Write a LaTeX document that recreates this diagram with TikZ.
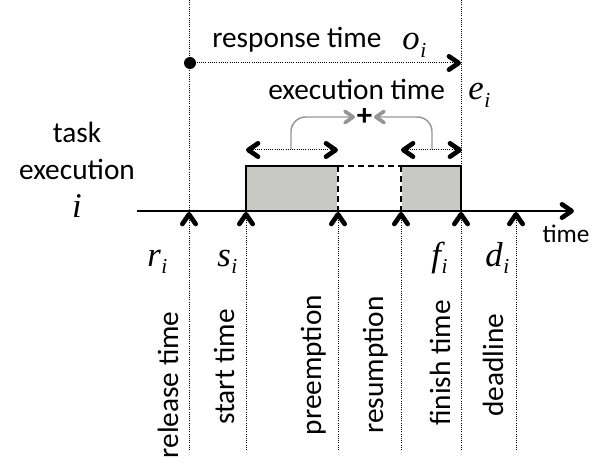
\documentclass[tikz,border=0pt]{standalone}
\usepackage{fontspec}
\setmainfont{Carlito}
\newfontfamily\mvfont{Liberation Serif}
\usetikzlibrary{arrows.meta}
\definecolor{boxgray}{RGB}{200,200,197}
\definecolor{arrgray}{RGB}{150,150,150}
\newcommand\mvar[2]{{\mvfont\itshape #1\kern0.5pt\raisebox{-0.22em}{\fontsize{16}{16}\selectfont #2}}}
\begin{document}
\begin{tikzpicture}[x=0.75pt,y=-0.75pt,
  chevpic/.pic={\draw[black,solid,line width=3.5pt,line cap=round,line join=round]
     (-9pt,-5pt) -- (-1.75pt,0pt) -- (-9pt,5pt);},
  gchevpic/.pic={\draw[arrgray,solid,line width=2.8pt,line cap=round,line join=round]
     (-7.5pt,-4.2pt) -- (-1.4pt,0pt) -- (-7.5pt,4.2pt);},
  dotline/.style={line width=0.75pt,dash pattern=on 0.75pt off 0.9pt},
  boxline/.style={line width=1.5pt,line join=miter},
  garrow/.style={arrgray,line width=1.1pt,rounded corners=11pt},
  lbl/.style={inner sep=0pt,font=\fontsize{22}{26}\selectfont},
  mlbl/.style={inner sep=0pt,font=\fontsize{26}{28}\selectfont},
  vlbl/.style={inner sep=0pt,rotate=90,anchor=base,font=\fontsize{22}{26}\selectfont}]
\useasboundingbox (0,0) rectangle (610,474);
% named coordinates
\coordinate (axL) at (137,211);
\coordinate (axR) at (574,211);
\coordinate (tr) at (189,212);
\coordinate (ts) at (246,212);
\coordinate (tp) at (338,212);
\coordinate (tq) at (401,212);
\coordinate (tf) at (461,212);
\coordinate (td) at (516,212);
\coordinate (br) at (189,450);
\coordinate (bs) at (246,450);
\coordinate (bp) at (338,450);
\coordinate (bq) at (401,450);
\coordinate (bf) at (461,450);
\coordinate (bd) at (516,450);
\coordinate (topr) at (189,0);
\coordinate (topf) at (461,0);
\coordinate (axr) at (189,211);
\coordinate (boxf) at (461,166);
\coordinate (respend) at (461,63);
\coordinate (e1a) at (246,150);
\coordinate (e1b) at (338,150);
\coordinate (e2a) at (401,150);
\coordinate (e2b) at (462,150);
\coordinate (g1) at (291,149);
\coordinate (g1c) at (291,117);
\coordinate (g1e) at (355,117);
\coordinate (g2) at (432,149);
\coordinate (g2c) at (432,117);
\coordinate (g2e) at (374,117);
% boxes
\fill[boxgray] (246,166) rectangle (338,211);
\fill[boxgray] (401,166) rectangle (461,211);
\draw[white,line width=1.5pt] (338,166) -- (338,211);
\draw[white,line width=1.5pt] (401,166) -- (401,211);
\draw[boxline] (246,211) -- (246,166) -- (338,166);
\draw[boxline,dash pattern=on 4.5pt off 3pt] (338,166) -- (401,166);
\draw[boxline,dash pattern=on 4.5pt off 3pt] (338,166) -- (338,211);
\draw[boxline,dash pattern=on 4.5pt off 3pt] (401,166) -- (401,211);
\draw[boxline] (401,166) -- (461,166) -- (461,211);
% axis
\draw[line width=1.5pt] (axL) -- ([xshift=-2pt]axR);
\pic at (axR) {chevpic};
% top dotted lines
\draw[dotline] (topr) -- (axr);
\draw[dotline] (topf) -- (boxf);
% event markers
\foreach \b/\t in {br/tr,bs/ts,bp/tp,bq/tq,bf/tf,bd/td}{
  \draw[dotline] (\b) -- (\t);
  \pic[rotate=90] at (\t) {chevpic};
}
% response time arrow
\fill (190,63) circle (4.5pt) coordinate (dot);
\draw[dotline] (dot) -- (respend);
\pic at (respend) {chevpic};
% execution parts
\draw[dotline] (e1a) -- (e1b);
\pic[rotate=180] at (e1a) {chevpic};
\pic at (e1b) {chevpic};
\draw[dotline] (e2a) -- (e2b);
\pic[rotate=180] at (e2a) {chevpic};
\pic at (e2b) {chevpic};
\node[inner sep=0pt,font=\fontsize{23}{26}\selectfont\bfseries] (plus) at (364.5,117) {+};
\draw[garrow] (g1) -- (g1c) -- ([xshift=-2pt]g1e);
\pic at (g1e) {gchevpic};
\draw[garrow] (g2) -- (g2c) -- ([xshift=2pt]g2e);
\pic[rotate=180] at (g2e) {gchevpic};
% texts
\node[lbl,anchor=base] (task) at (77,143) {task};
\node[lbl,anchor=base] (execl) at (77,180) {execution};
\node[mlbl,anchor=base] (ivar) at (77,217) {\mvfont\itshape i};
\node[lbl,anchor=base west] (resp) at (212,48) {response time};
\node[mlbl,anchor=base west] (oi) at (402,50) {\mvar{o}{i}};
\node[lbl,anchor=base west] (exect) at (268,100) {execution time};
\node[mlbl,anchor=base west] (ei) at (468,100) {\mvar{e}{i}};
\node[mlbl,anchor=base west] (ri) at (147,266) {\mvar{r}{i}};
\node[mlbl,anchor=base west] (si) at (217,266) {\mvar{s}{i}};
\node[mlbl,anchor=base west] (fi) at (431,266) {\mvar{f}{i}};
\node[mlbl,anchor=base west] (di) at (485,266) {\mvar{d}{i}};
\node[inner sep=0pt,anchor=base,font=\fontsize{19}{22}\selectfont] (timel) at (566,242) {time};
\node[vlbl] (lrel) at (178,385) {release time};
\node[vlbl] (lsta) at (234,367) {start time};
\node[vlbl] (lpre) at (321,365) {preemption};
\node[vlbl] (lres) at (383,365) {resumption};
\node[vlbl] (lfin) at (450,363) {finish time};
\node[vlbl] (ldea) at (503,365) {deadline};
\end{tikzpicture}
\end{document}
